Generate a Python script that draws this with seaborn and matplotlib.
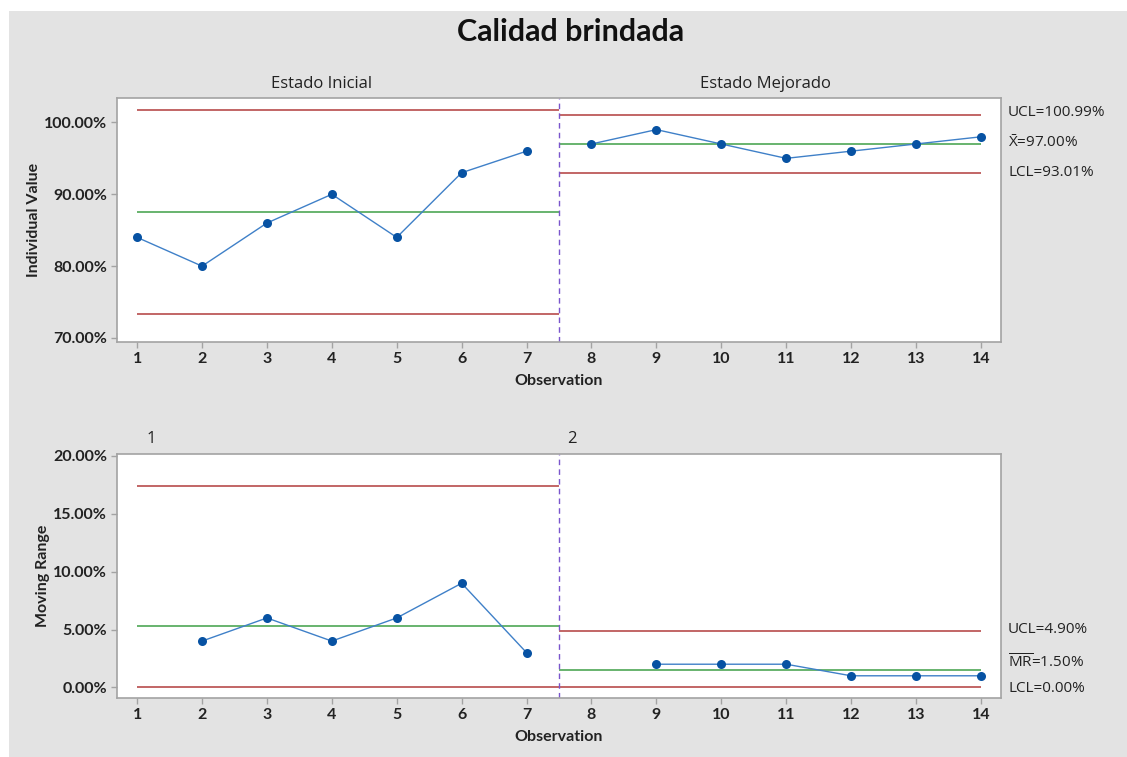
import numpy as np
import pandas as pd
import matplotlib
matplotlib.use("Agg")
import matplotlib.pyplot as plt
from matplotlib.patches import Rectangle
from matplotlib import font_manager as fm
from matplotlib.font_manager import FontProperties
import matplotlib.transforms as mtransforms
import seaborn as sns

# ---- data ----
observation = list(range(1, 15))
stage = ["Estado Inicial"] * 7 + ["Estado Mejorado"] * 7
individual_value = [84, 80, 86, 90, 84, 93, 96, 97, 99, 97, 95, 96, 97, 98]
moving_range = [np.nan, 4, 6, 4, 6, 9, 3, np.nan, 2, 2, 2, 1, 1, 1]

stage_names = ["Estado Inicial", "Estado Mejorado"]
stage_marks = ["1", "2"]

# control limits per stage (percent)
ucl_ind = [101.76, 100.99]
cl_ind = [87.57, 97.00]
lcl_ind = [73.39, 93.01]
ucl_mr = [17.42, 4.90]
cl_mr = [5.33, 1.50]
lcl_mr = [0.00, 0.00]

ind_ticks = [70, 80, 90, 100]
mr_ticks = [0, 5, 10, 15, 20]

df = pd.DataFrame({"Observation": observation, "Stage": stage,
                   "Individual": individual_value, "MR": moving_range})

# ---- style ----
sns.set_theme(style="white")
FONT = "Open Sans"
plt.rcParams["font.family"] = [FONT, "DejaVu Sans"]
plt.rcParams["mathtext.fontset"] = "custom"
plt.rcParams["mathtext.rm"] = FONT
plt.rcParams["mathtext.it"] = FONT


def find_face(family, weight):
    for f in fm.fontManager.ttflist:
        if (f.name == family and f.weight == weight and f.style == "normal"
                and f.stretch == "normal" and "ondensed" not in f.fname):
            return f.fname
    return None


bold_file = find_face("Lato", 700) or find_face("Roboto", 700)


def bold(size):
    if bold_file:
        return FontProperties(fname=bold_file, size=size)
    return FontProperties(family=FONT, weight="bold", size=size)


BG = "#e3e3e3"
SPINE = "#a3a3a3"
RED = "#b23c3c"
GREEN = "#3f9f46"
BLUE_PT = "#0752a3"
BLUE_LN = "#3f80c8"
PURPLE = "#7a55cc"
TXT = "#222222"

W, H = 1127, 757
fig = plt.figure(figsize=(W / 100, H / 100), dpi=100)
fig.patch.set_facecolor("white")
fig.add_artist(Rectangle((9 / W, 0), 1 - 9 / W, 1 - 11 / H, transform=fig.transFigure,
                         facecolor=BG, edgecolor="none", zorder=-10))

ax1 = fig.add_axes([117 / W, 1 - 342 / H, 884 / W, 244 / H])
ax2 = fig.add_axes([117 / W, 1 - 698 / H, 884 / W, 244 / H])

# stage boundaries in observation units
first_obs = [df.loc[df.Stage == s, "Observation"].min() for s in stage_names]
last_obs = [df.loc[df.Stage == s, "Observation"].max() for s in stage_names]
split = (last_obs[0] + first_obs[1]) / 2
seg_start = [first_obs[0], split]
seg_end = [split, last_obs[1]]


def draw_panel(ax, col, ucl, cl, lcl, ticks, ylim):
    ax.set_facecolor("white")
    for i, s in enumerate(stage_names):
        ax.hlines(ucl[i], seg_start[i], seg_end[i], color=RED, lw=1.1, zorder=2)
        ax.hlines(lcl[i], seg_start[i], seg_end[i], color=RED, lw=1.1, zorder=2)
        ax.hlines(cl[i], seg_start[i], seg_end[i], color=GREEN, lw=1.1, zorder=2)
        sub = df[df.Stage == s].dropna(subset=[col])
        sns.lineplot(data=sub, x="Observation", y=col, ax=ax, color=BLUE_LN, lw=1.0,
                     marker="o", markersize=6.5, markerfacecolor=BLUE_PT,
                     markeredgewidth=0, zorder=3, legend=False)
    ax.axvline(split, color=PURPLE, lw=1.0, ls=(0, (4, 3)), zorder=2)
    ax.set_xlim(0.69, 14.31)
    ax.set_ylim(*ylim)
    ax.set_xticks(observation, labels=[str(o) for o in observation])
    ax.set_yticks(ticks, labels=[f"{t:.2f}%" for t in ticks])
    for lbl in ax.get_xticklabels() + ax.get_yticklabels():
        lbl.set_fontproperties(bold(11.5))
        lbl.set_color(TXT)
    ax.tick_params(direction="out", length=4, width=1, color=SPINE, pad=3,
                   bottom=True, left=True)
    for sp in ax.spines.values():
        sp.set_color(SPINE)
        sp.set_linewidth(1.2)
    ax.set_xlabel("Observation", fontproperties=bold(11.5), color=TXT, labelpad=6)


draw_panel(ax1, "Individual", ucl_ind, cl_ind, lcl_ind, ind_ticks, (69.44, 103.4))
draw_panel(ax2, "MR", ucl_mr, cl_mr, lcl_mr, mr_ticks, (-0.92, 20.17))
ax1.set_ylabel("Individual Value", fontproperties=bold(11.5), color=TXT, labelpad=2)
ax2.set_ylabel("Moving Range", fontproperties=bold(11.5), color=TXT, labelpad=2)

# stage captions
trans1 = mtransforms.blended_transform_factory(ax1.transData, ax1.transAxes)
for xc, name in zip([3.84, 10.68], stage_names):
    ax1.text(xc, 1.058, name, transform=trans1, ha="center", va="center",
             fontsize=12, color=TXT)
trans2 = mtransforms.blended_transform_factory(ax2.transData, ax2.transAxes)
for xc, mark in zip([1.21, 7.7], stage_marks):
    ax2.text(xc, 1.06, mark, transform=trans2, ha="center", va="center",
             fontsize=12, color=TXT)

# limit annotations for the last stage
LBL = dict(textcoords="offset points", ha="left", va="center", fontsize=11, color=TXT)
tr_r1 = mtransforms.blended_transform_factory(ax1.transAxes, ax1.transData)
ax1.annotate(f"UCL={ucl_ind[1]:.2f}%", (1.008, ucl_ind[1]), xycoords=tr_r1,
             xytext=(0, 2), **LBL)
ax1.annotate(r"$\bar{\mathrm{X}}$" + f"={cl_ind[1]:.2f}%", (1.008, cl_ind[1]),
             xycoords=tr_r1, xytext=(0, 1), **LBL)
ax1.annotate(f"LCL={lcl_ind[1]:.2f}%", (1.008, lcl_ind[1]), xycoords=tr_r1,
             xytext=(0, 0), **LBL)

tr_r2 = mtransforms.blended_transform_factory(ax2.transAxes, ax2.transData)
ax2.annotate(f"UCL={ucl_mr[1]:.2f}%", (1.008, ucl_mr[1]), xycoords=tr_r2,
             xytext=(0, 1), **LBL)
ax2.annotate(r"$\overline{\mathrm{MR}}$" + f"={cl_mr[1]:.2f}%", (1.008, cl_mr[1]),
             xycoords=tr_r2, xytext=(0, 5), **LBL)
ax2.annotate(f"LCL={lcl_mr[1]:.2f}%", (1.008, lcl_mr[1]), xycoords=tr_r2,
             xytext=(0, -1), **LBL)

fig.text(571 / W, 1 - 32 / H, "Calidad brindada", ha="center", va="center",
         fontproperties=bold(22), color="#111111")

fig.savefig("out.png", dpi=100, facecolor=fig.get_facecolor())
